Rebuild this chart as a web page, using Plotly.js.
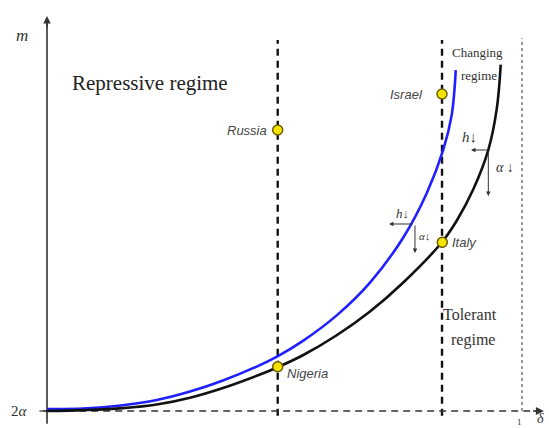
<!DOCTYPE html>
<html>
<head>
<meta charset="utf-8">
<script src="https://cdn.plot.ly/plotly-3.0.1.min.js"></script>
<style>html,body{margin:0;padding:0;background:#fff;}#chart{width:549px;height:428px;}</style>
</head>
<body>
<div id="chart"></div>
<script>
// Blue curve (after h / alpha decrease)
const blueDelta = [0, 0.076, 0.160, 0.231, 0.301, 0.3705, 0.4415, 0.4842, 0.5389, 0.6099, 0.680, 0.7501, 0.7994, 0.8343, 0.852, 0.8589, 0.8604];
const blueM     = [0.005, 0.0062, 0.0146, 0.0281, 0.0498, 0.0783, 0.1138, 0.1394, 0.1799, 0.2452, 0.3293, 0.445, 0.5584, 0.6701, 0.7586, 0.8414, 0.874];
// Black curve (original threshold)
const blackDelta = [0, 0.0764, 0.160, 0.231, 0.301, 0.3705, 0.4415, 0.4857, 0.5396, 0.6099, 0.680, 0.7501, 0.8309, 0.8625, 0.8975, 0.9291, 0.9467, 0.9552];
const blackM     = [0, 0.0023, 0.0073, 0.0165, 0.0340, 0.0590, 0.0902, 0.1123, 0.1436, 0.1942, 0.2552, 0.3295, 0.4321, 0.4879, 0.5684, 0.6695, 0.7733, 0.888];
// Countries
const countries = ["Russia", "Israel", "Italy", "Nigeria"];
const countryDelta = [0.4857, 0.8316, 0.8322, 0.4857];
const countryM = [0.7205, 0.8128, 0.4326, 0.1136];
// Regime boundaries
const boundaryDelta = [0.4857, 0.8316];
const maxDelta = 1;

const serif = "Liberation Serif, Times New Roman, serif";
const sans = "Liberation Sans, Arial, sans-serif";

const traces = [
  {x: blueDelta, y: blueM, mode: 'lines', line: {color: '#1f1fff', width: 2.6, shape: 'spline', smoothing: 1}, hoverinfo: 'skip'},
  {x: blackDelta, y: blackM, mode: 'lines', line: {color: '#111111', width: 2.6, shape: 'spline', smoothing: 1}, hoverinfo: 'skip'},
  {x: countryDelta, y: countryM, mode: 'markers', text: countries,
   marker: {size: 10, color: '#f5e400', line: {color: '#6b5e00', width: 1.5}}, hoverinfo: 'text'}
];

const shapes = [];
boundaryDelta.forEach(d => shapes.push({type: 'line', xref: 'x', yref: 'y', x0: d, x1: d, y0: -0.012, y1: 0.951,
  line: {color: '#111', width: 2.4, dash: '7px,5px'}, layer: 'below'}));
shapes.push({type: 'line', xref: 'x', yref: 'y', x0: maxDelta, x1: maxDelta, y0: 0, y1: 0.956,
  line: {color: '#777', width: 1.5, dash: '3px,3px'}, layer: 'below'});
// x axis (dashed)
shapes.push({type: 'line', xref: 'x', yref: 'y', x0: -0.008, x1: 1.03, y0: 0, y1: 0,
  line: {color: '#333', width: 1.6, dash: '7px,5px'}, layer: 'below'});
// y axis
shapes.push({type: 'line', xref: 'x', yref: 'y', x0: 0, x1: 0, y0: -0.033, y1: 1.0,
  line: {color: '#222', width: 1.5}, layer: 'below'});
// 2alpha tick
shapes.push({type: 'line', xref: 'x', yref: 'y', x0: -0.016, x1: 0, y0: 0, y1: 0,
  line: {color: '#333', width: 1.2}});

function txt(x, y, text, size, family, xanchor, color, italic) {
  return {x: x, y: y, xref: 'x', yref: 'y', text: text, showarrow: false, xanchor: xanchor || 'center', yanchor: 'middle',
    font: {size: size, family: family, color: color || '#333', style: italic ? 'italic' : 'normal'}};
}
function arr(x, y, ax, ay, w, s) {
  return {x: x, y: y, ax: ax, ay: ay, xref: 'x', yref: 'y', axref: 'x', ayref: 'y', text: '', showarrow: true,
    arrowhead: 2, arrowsize: s || 1, arrowwidth: w || 1, arrowcolor: '#333'};
}

const annotations = [
  txt(-0.0526, 0.964, 'm', 17, serif, 'center', '#333', true),
  txt(-0.057, 0.0, '2<i>α</i>', 15, serif, 'center', '#333'),
  txt(0.2168, 0.841, 'Repressive regime', 21, serif, 'center', '#222'),
  txt(0.4674, 0.7205, countries[0], 13, sans, 'right', '#444', true),
  txt(0.7958, 0.8128, countries[1], 13, sans, 'right', '#444', true),
  txt(0.8484, 0.4308, countries[2], 13, sans, 'left', '#444', true),
  txt(0.5011, 0.0949, countries[3], 13, sans, 'left', '#444', true),
  txt(0.9053, 0.918, 'Changing', 13, serif, 'center', '#333'),
  txt(0.9095, 0.859, 'regime', 13, serif, 'center', '#333'),
  txt(0.8905, 0.2487, 'Tolerant', 16, serif, 'center', '#333'),
  txt(0.8968, 0.182, 'regime', 16, serif, 'center', '#333'),
  txt(0.8905, 0.7026, '<i>h</i>↓', 15, serif, 'center', '#333'),
  txt(0.9642, 0.6256, '<i>α</i> ↓', 14, serif, 'center', '#333'),
  txt(0.7474, 0.5077, '<i>h</i>↓', 13, serif, 'center', '#333'),
  txt(0.7937, 0.4487, '<i>α</i>↓', 11, serif, 'center', '#333'),
  txt(1.039, -0.019, 'δ', 14, serif, 'center', '#333', true),
  txt(0.9937, -0.029, '1', 9, serif, 'center', '#333'),
  // axis arrowheads
  arr(1.046, 0, 1.02, 0, 1.6, 1),
  arr(0, 1.013, 0, 0.98, 1.5, 1),
  // shift arrows near the black curve
  arr(0.8926, 0.6692, 0.9291, 0.6692, 1, 0.9),
  arr(0.9291, 0.5513, 0.9291, 0.6692, 1, 0.9),
  arr(0.720, 0.4795, 0.7726, 0.4795, 1, 0.9),
  arr(0.7747, 0.4051, 0.7747, 0.4795, 1, 0.9)
];

const layout = {
  width: 549, height: 428,
  margin: {l: 0, r: 0, t: 0, b: 0},
  paper_bgcolor: '#fff', plot_bgcolor: '#fff',
  showlegend: false,
  xaxis: {range: [-0.09895, 1.05684], visible: false, fixedrange: true},
  yaxis: {range: [-0.04359, 1.05385], visible: false, fixedrange: true},
  shapes: shapes,
  annotations: annotations
};

Plotly.newPlot('chart', traces, layout, {displayModeBar: false, staticPlot: true});
</script>
</body>
</html>
